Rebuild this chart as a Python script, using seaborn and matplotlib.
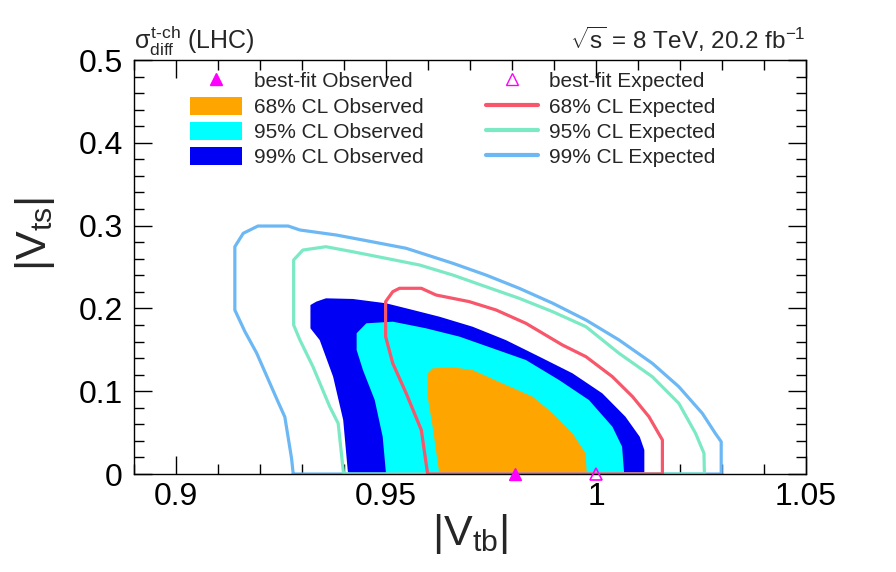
import matplotlib
matplotlib.use("Agg")
import numpy as np
import pandas as pd
import matplotlib.pyplot as plt
import seaborn as sns
from matplotlib.lines import Line2D
from matplotlib.patches import Patch

# contour points (|Vtb|, |Vts|)
obs68_vtb = [0.9627, 0.9611, 0.9599, 0.9599, 0.9611, 0.9659, 0.9706, 0.9777, 0.9849, 0.9897, 0.9944, 0.9975, 0.9978]
obs68_vts = [0.0, 0.0571, 0.0934, 0.1216, 0.1276, 0.1288, 0.1256, 0.1095, 0.0934, 0.0733, 0.0491, 0.025, 0.0]

obs95_vtb = [0.9500, 0.9492, 0.9473, 0.9445, 0.9430, 0.9430, 0.9453, 0.9516, 0.9595, 0.9675, 0.9754, 0.9833, 0.9912, 0.9983, 1.0039, 1.0062, 1.0067]
obs95_vts = [0.0, 0.045, 0.0894, 0.1256, 0.1498, 0.170, 0.182, 0.184, 0.176, 0.1659, 0.1518, 0.1377, 0.1135, 0.0894, 0.0571, 0.033, 0.0]

obs99_vtb = [0.9413, 0.9409, 0.9398, 0.9374, 0.9342, 0.9320, 0.9320, 0.9334, 0.9357, 0.9421, 0.9500, 0.9564, 0.9627,
             0.9706, 0.9785, 0.9865, 0.9944, 1.0015, 1.0070, 1.0104, 1.0115, 1.0115]
obs99_vts = [0.0, 0.003, 0.0652, 0.1175, 0.1618, 0.176, 0.2041, 0.2082, 0.2122, 0.2114, 0.2062, 0.1981, 0.190,
             0.1779, 0.1618, 0.1417, 0.1216, 0.0974, 0.0692, 0.045, 0.029, 0.0]

exp68_vtb = [0.9599, 0.9584, 0.9548, 0.9516, 0.9499, 0.9499, 0.9516, 0.9532, 0.9584, 0.9619, 0.9698, 0.9762, 0.9833,
             0.9920, 0.9976, 1.0039, 1.0087, 1.0126, 1.0158, 1.0158, 0.9599]
exp68_vts = [0.0, 0.0531, 0.0974, 0.1337, 0.1659, 0.2082, 0.2202, 0.2243, 0.2243, 0.2162, 0.2082, 0.1981, 0.182,
             0.1558, 0.1417, 0.1175, 0.0934, 0.0692, 0.0411, 0.0, 0.0]

exp95_vtb = [0.9399, 0.9386, 0.9366, 0.9326, 0.9295, 0.9280, 0.9280, 0.9302, 0.9357, 0.9420, 0.9500, 0.9580, 0.9659,
             0.9738, 0.9817, 0.9897, 0.9976, 1.0055, 1.0134, 1.0197, 1.0237, 1.0257, 1.0258, 0.9399]
exp95_vts = [0.0, 0.0612, 0.0813, 0.1296, 0.1618, 0.180, 0.2585, 0.2705, 0.2745, 0.2685, 0.2605, 0.2524, 0.2403,
             0.2262, 0.2122, 0.196, 0.1779, 0.1457, 0.1175, 0.0854, 0.0491, 0.025, 0.0, 0.0]

exp99_vtb = [0.9279, 0.9275, 0.9259, 0.9243, 0.9192, 0.9164, 0.9140, 0.9140, 0.9160, 0.9195, 0.9267, 0.9295, 0.9382,
             0.9445, 0.9548, 0.9659, 0.9738, 0.9817, 0.9897, 0.9976, 1.0055, 1.0134, 1.0197, 1.0253, 1.0284,
             1.0298, 1.0298, 0.9279]
exp99_vts = [0.0, 0.019, 0.069, 0.087, 0.146, 0.172, 0.198, 0.2745, 0.2907, 0.2995, 0.2995, 0.2947, 0.2886,
             0.2826, 0.2726, 0.2545, 0.2403, 0.2243, 0.2062, 0.186, 0.1618, 0.1337, 0.1055, 0.0733, 0.0491,
             0.039, 0.0, 0.0]

bestfit_obs = (0.9808, 0.0)
bestfit_exp = (1.0, 0.0)

obs_labels = ["68% CL Observed", "95% CL Observed", "99% CL Observed"]
exp_labels = ["68% CL Expected", "95% CL Expected", "99% CL Expected"]
obs_colors = ["#ffa500", "#00ffff", "#0000f5"]
exp_colors = ["#f8566a", "#7beac4", "#6cb8f5"]
magenta = "#ff00ff"

sns.set_theme(style="ticks")
plt.rcParams["font.family"] = ["Liberation Sans", "DejaVu Sans"]
plt.rcParams["mathtext.fontset"] = "custom"
plt.rcParams["mathtext.rm"] = "Liberation Sans"
plt.rcParams["mathtext.it"] = "Liberation Sans"
plt.rcParams["mathtext.bf"] = "Liberation Sans"

fig = plt.figure(figsize=(8.96, 5.72), dpi=100)
ax = fig.add_axes([0.1496, 0.1713, 0.75, 0.7238])

# filled observed contours, widest first
for vx, vy, c in [(obs99_vtb, obs99_vts, obs_colors[2]),
                  (obs95_vtb, obs95_vts, obs_colors[1]),
                  (obs68_vtb, obs68_vts, obs_colors[0])]:
    ax.fill(vx, vy, color=c, lw=0, zorder=1)

# expected contour lines
for vx, vy, c in [(exp99_vtb, exp99_vts, exp_colors[2]),
                  (exp95_vtb, exp95_vts, exp_colors[1]),
                  (exp68_vtb, exp68_vts, exp_colors[0])]:
    df = pd.DataFrame({"vtb": vx, "vts": vy})
    sns.lineplot(data=df, x="vtb", y="vts", sort=False, estimator=None,
                 color=c, lw=2.3, ax=ax, zorder=2)

ax.plot([bestfit_obs[0]], [bestfit_obs[1]], marker="^", ms=9, color=magenta,
        ls="none", clip_on=False, zorder=5)
ax.plot([bestfit_exp[0]], [bestfit_exp[1]], marker="^", ms=9, mfc="none",
        mec=magenta, mew=1.2, ls="none", clip_on=False, zorder=5)

ax.set_xlim(0.89, 1.05)
ax.set_ylim(0, 0.5)
ax.set_xticks([0.9, 0.95, 1.0, 1.05])
ax.set_xticklabels(["0.9", "0.95", "1", "1.05"])
ax.set_xticks(np.arange(0.89, 1.05, 0.01), minor=True)
ax.set_yticks([0, 0.1, 0.2, 0.3, 0.4, 0.5])
ax.set_yticklabels(["0", "0.1", "0.2", "0.3", "0.4", "0.5"])
ax.set_yticks(np.arange(0, 0.5, 0.02), minor=True)
ax.tick_params(which="both", direction="in", top=True, right=True, width=1, colors="black")
ax.tick_params(which="major", length=13, labelsize=23)
ax.tick_params(axis="x", which="major", pad=6)
ax.tick_params(axis="y", which="major", pad=8)
ax.tick_params(which="minor", length=7)
for s in ax.spines.values():
    s.set_linewidth(1)
    s.set_color("black")

ax.set_xlabel(r"$|\mathrm{V}_{\mathrm{tb}}|$", fontsize=31)
ax.set_ylabel(r"$|\mathrm{V}_{\mathrm{ts}}|$", fontsize=31)
ax.xaxis.set_label_coords(0.5, -0.092)
ax.yaxis.set_label_coords(-0.115, 0.58)

fig.text(0.1496, 0.915, r"$\sigma^{\mathrm{t\text{-}ch}}_{\mathrm{diff}}$ (LHC)", fontsize=18,
         ha="left", va="baseline")
fig.text(0.8996, 0.915, r"$\sqrt{\mathrm{s}}$ = 8 TeV, 20.2 fb$^{-1}$", fontsize=17.5,
         ha="right", va="baseline")

handles = [Line2D([], [], marker="^", ls="none", color=magenta, ms=9)]
handles += [Patch(facecolor=c, edgecolor="none") for c in obs_colors]
handles += [Line2D([], [], marker="^", ls="none", mfc="none", mec=magenta, ms=9)]
handles += [Line2D([], [], color=c, lw=3) for c in exp_colors]
labels = ["best-fit Observed"] + obs_labels + ["best-fit Expected"] + exp_labels
ax.legend(handles, labels, ncol=2, frameon=False, fontsize=15,
          loc="upper left", bbox_to_anchor=(0.0833, 0.973), borderpad=0, borderaxespad=0,
          handlelength=2.5, handleheight=0.95, handletextpad=0.55,
          labelspacing=0.25, columnspacing=3.0)

fig.savefig("out.png", dpi=100)
